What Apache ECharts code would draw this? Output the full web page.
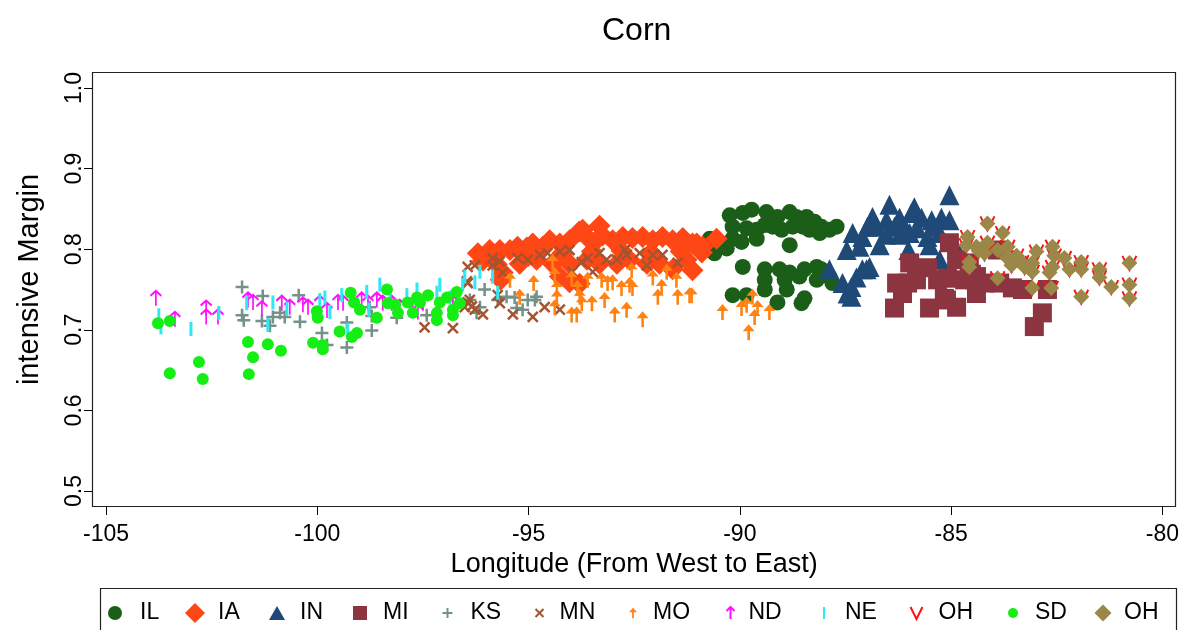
<!DOCTYPE html>
<html>
<head>
<meta charset="utf-8">
<script src="https://cdn.jsdelivr.net/npm/echarts@6/dist/echarts.min.js"></script>
<style>
html,body{margin:0;padding:0;background:#fff;}
#chart{width:1182px;height:630px;}
</style>
</head>
<body>
<div id="chart"></div>
<script>
// ---------- data (longitude, intensive margin) ----------
const chartTitle = 'Corn';
const xTicks = [-105, -100, -95, -90, -85, -80];
const yTicks = [0.5, 0.6, 0.7, 0.8, 0.9, 1.0];
const legendNames = ['IL', 'IA', 'IN', 'MI', 'KS', 'MN', 'MO', 'ND', 'NE', 'OH', 'SD', 'OH '];

const IL = [[-90.24,0.842],[-89.93,0.845],[-89.72,0.849],[-89.37,0.846],[-89.11,0.840],[-88.82,0.846],[-88.66,0.840],[-88.42,0.840],[-88.23,0.834],[-88.07,0.828],[-87.88,0.824],[-87.71,0.828],[-90.17,0.828],[-89.84,0.826],[-89.60,0.824],[-89.41,0.830],[-89.22,0.828],[-89.01,0.824],[-88.75,0.828],[-88.51,0.828],[-88.35,0.824],[-88.11,0.820],[-89.96,0.809],[-89.60,0.813],[-88.82,0.805],[-90.71,0.813],[-90.60,0.795],[-90.31,0.801],[-90.17,0.813],[-89.93,0.778],[-89.41,0.775],[-89.41,0.762],[-89.41,0.750],[-89.06,0.775],[-88.94,0.762],[-88.89,0.750],[-88.82,0.771],[-88.59,0.766],[-88.47,0.775],[-88.18,0.778],[-88.18,0.762],[-88.07,0.775],[-87.88,0.766],[-90.17,0.743],[-89.84,0.743],[-89.11,0.734],[-88.47,0.739],[-88.54,0.733],[-87.81,0.758]];
const IA = [[-96.20,0.795],[-96.08,0.786],[-95.92,0.799],[-95.68,0.799],[-95.75,0.781],[-95.61,0.771],[-95.44,0.799],[-95.26,0.803],[-95.04,0.802],[-94.90,0.807],[-94.66,0.803],[-94.50,0.811],[-94.26,0.807],[-94.03,0.811],[-93.72,0.824],[-93.62,0.815],[-93.39,0.811],[-93.25,0.817],[-93.01,0.811],[-92.77,0.815],[-92.54,0.814],[-92.30,0.815],[-92.06,0.811],[-91.83,0.815],[-91.59,0.811],[-91.35,0.814],[-91.12,0.807],[-90.88,0.803],[-95.66,0.762],[-95.21,0.782],[-94.81,0.787],[-94.43,0.782],[-94.03,0.782],[-93.62,0.787],[-93.32,0.782],[-92.91,0.782],[-92.61,0.787],[-92.20,0.782],[-91.90,0.782],[-91.59,0.775],[-91.26,0.787],[-94.26,0.766],[-94.03,0.759],[-93.79,0.757],[-95.00,0.792],[-94.20,0.795],[-93.50,0.797],[-92.80,0.798],[-92.10,0.796],[-91.40,0.797],[-91.02,0.807],[-90.55,0.813],[-90.90,0.796],[-91.12,0.774],[-93.32,0.829],[-93.80,0.822]];
const IN = [[-87.33,0.820],[-87.10,0.815],[-86.98,0.828],[-87.47,0.799],[-87.17,0.803],[-87.88,0.775],[-87.57,0.758],[-87.45,0.745],[-87.24,0.765],[-87.10,0.775],[-86.93,0.778],[-85.04,0.867],[-86.46,0.855],[-85.87,0.852],[-86.86,0.840],[-86.53,0.836],[-86.22,0.839],[-85.94,0.845],[-85.70,0.839],[-85.46,0.836],[-85.23,0.839],[-85.04,0.836],[-86.76,0.828],[-86.34,0.828],[-86.10,0.828],[-85.80,0.826],[-85.44,0.828],[-86.53,0.818],[-86.22,0.818],[-85.98,0.820],[-85.56,0.815],[-85.27,0.820],[-86.01,0.799],[-85.51,0.805],[-85.27,0.787],[-87.00,0.775],[-87.36,0.753],[-87.36,0.741],[-86.69,0.805],[-84.87,0.801]];
const MI = [[-85.04,0.808],[-85.98,0.783],[-85.56,0.777],[-86.29,0.758],[-86.03,0.758],[-85.82,0.762],[-85.32,0.762],[-85.09,0.764],[-86.15,0.745],[-86.34,0.727],[-85.51,0.727],[-85.16,0.739],[-84.87,0.728],[-84.40,0.745],[-84.45,0.762],[-84.87,0.787],[-84.57,0.783],[-84.40,0.766],[-84.21,0.758],[-85.11,0.737],[-83.85,0.758],[-83.55,0.752],[-83.31,0.750],[-82.72,0.750],[-82.84,0.721],[-83.03,0.704],[-84.52,0.769],[-83.90,0.799],[-84.68,0.762]];
const KS = [[-101.78,0.753],[-101.29,0.742],[-101.78,0.718],[-101.74,0.712],[-101.31,0.711],[-101.12,0.705],[-101.05,0.716],[-100.88,0.721],[-100.77,0.716],[-100.44,0.743],[-100.41,0.710],[-99.89,0.696],[-99.77,0.681],[-99.30,0.678],[-99.30,0.709],[-98.71,0.699],[-98.76,0.728],[-98.71,0.717],[-98.12,0.715],[-97.41,0.718],[-96.23,0.721],[-96.04,0.750],[-95.73,0.737],[-95.52,0.741],[-95.33,0.740],[-95.28,0.727],[-95.14,0.725],[-95.02,0.737],[-94.85,0.737],[-94.81,0.741],[-96.15,0.728],[-96.39,0.737]];
const MN = [[-96.44,0.778],[-96.44,0.758],[-96.44,0.734],[-96.34,0.729],[-96.79,0.702],[-96.27,0.780],[-95.85,0.789],[-95.85,0.780],[-95.68,0.785],[-95.61,0.771],[-95.26,0.789],[-95.02,0.787],[-94.73,0.793],[-94.55,0.795],[-94.26,0.797],[-94.03,0.799],[-93.96,0.772],[-93.74,0.784],[-93.60,0.789],[-93.48,0.772],[-93.32,0.795],[-93.15,0.787],[-92.91,0.787],[-92.72,0.799],[-92.68,0.793],[-92.37,0.795],[-92.06,0.793],[-91.83,0.793],[-91.47,0.783],[-92.20,0.780],[-96.46,0.760],[-96.39,0.737],[-96.51,0.728],[-96.27,0.725],[-96.08,0.719],[-95.68,0.733],[-95.37,0.719],[-94.90,0.716],[-94.62,0.728],[-94.26,0.725],[-95.73,0.743],[-97.46,0.703]];
const MO = [[-95.44,0.762],[-95.21,0.741],[-94.88,0.758],[-94.43,0.784],[-94.38,0.768],[-94.33,0.752],[-94.33,0.740],[-94.38,0.728],[-93.98,0.764],[-93.98,0.719],[-93.86,0.719],[-93.84,0.752],[-93.79,0.741],[-93.74,0.733],[-93.60,0.762],[-93.50,0.733],[-93.27,0.762],[-93.20,0.737],[-93.13,0.758],[-93.01,0.759],[-92.96,0.719],[-92.80,0.752],[-92.68,0.725],[-92.61,0.756],[-92.56,0.774],[-92.54,0.752],[-92.30,0.713],[-92.06,0.765],[-91.94,0.741],[-91.85,0.753],[-91.73,0.772],[-91.50,0.762],[-91.47,0.741],[-91.19,0.743],[-91.14,0.743],[-90.41,0.722],[-89.96,0.727],[-89.84,0.731],[-89.70,0.741],[-89.58,0.727],[-89.65,0.716],[-89.30,0.722],[-89.79,0.697]];
const ND = [[-103.82,0.739],[-103.37,0.713],[-102.63,0.727],[-102.63,0.716],[-102.35,0.716],[-101.64,0.737],[-101.52,0.734],[-101.31,0.726],[-100.84,0.733],[-100.65,0.728],[-100.34,0.731],[-100.22,0.728],[-99.94,0.733],[-99.77,0.724],[-99.51,0.734],[-99.39,0.733],[-98.95,0.737],[-98.80,0.733],[-98.59,0.737],[-98.45,0.733],[-98.24,0.733],[-98.05,0.728],[-97.74,0.728],[-97.62,0.722],[-97.50,0.733],[-96.79,0.733]];
const NE = [[-103.75,0.718],[-103.70,0.703],[-102.99,0.701],[-102.33,0.721],[-101.67,0.733],[-101.05,0.734],[-100.72,0.726],[-99.94,0.737],[-99.82,0.740],[-99.70,0.722],[-99.42,0.743],[-99.04,0.731],[-98.83,0.747],[-98.78,0.725],[-98.52,0.756],[-98.28,0.737],[-97.88,0.743],[-97.64,0.750],[-97.17,0.746],[-97.10,0.756],[-96.86,0.740],[-96.56,0.756],[-96.51,0.766],[-96.27,0.759],[-96.15,0.772],[-95.85,0.766],[-95.73,0.746],[-101.17,0.706],[-99.28,0.700]];
const OH = [[-84.14,0.832],[-84.61,0.815],[-83.78,0.820],[-84.64,0.805],[-84.40,0.803],[-84.14,0.808],[-84.21,0.795],[-83.90,0.799],[-83.66,0.803],[-83.69,0.790],[-83.45,0.792],[-83.57,0.780],[-83.33,0.784],[-83.26,0.778],[-83.08,0.783],[-82.98,0.797],[-83.08,0.772],[-82.60,0.803],[-82.56,0.792],[-82.32,0.789],[-82.60,0.778],[-82.67,0.771],[-82.20,0.775],[-81.92,0.784],[-81.92,0.775],[-81.49,0.775],[-81.49,0.765],[-81.21,0.753],[-80.78,0.783],[-80.78,0.756],[-80.78,0.739],[-81.92,0.741],[-82.63,0.752],[-83.08,0.752],[-83.90,0.764],[-84.57,0.778],[-84.57,0.784],[-84.35,0.798]];
const SD = [[-103.77,0.708],[-103.49,0.711],[-103.49,0.646],[-102.80,0.660],[-102.71,0.639],[-101.64,0.685],[-101.52,0.666],[-101.62,0.645],[-101.17,0.682],[-100.86,0.674],[-100.01,0.723],[-99.99,0.715],[-100.10,0.684],[-99.87,0.681],[-99.87,0.676],[-99.47,0.698],[-99.18,0.691],[-99.06,0.696],[-99.21,0.746],[-99.13,0.734],[-98.99,0.725],[-98.59,0.715],[-98.35,0.750],[-98.33,0.733],[-98.16,0.731],[-98.09,0.721],[-97.86,0.734],[-97.74,0.721],[-97.64,0.740],[-97.57,0.734],[-97.38,0.743],[-97.17,0.721],[-97.17,0.712],[-97.10,0.734],[-96.93,0.740],[-96.79,0.725],[-96.70,0.747],[-96.63,0.733],[-96.79,0.718]];

// ---------- styling ----------
const FONT = "'Liberation Sans', Helvetica, Arial, sans-serif";
const seriesStyles = [
  {data: IL, symbol: 'circle', size: 16, color: '#1b5e18'},
  {data: IA, symbol: 'diamond', size: 22, color: '#ff4716'},
  {data: IN, symbol: 'triangle', size: 20, color: '#1f4a78'},
  {data: MI, symbol: 'rect', size: 19, color: '#8c3540'},
  {data: KS, symbol: 'path://M6,0 L6,12 M0,6 L12,6', size: 13, stroke: '#74918a', lw: 2.5},
  {data: MN, symbol: 'path://M0,0 L10,10 M10,0 L0,10', size: 10, stroke: '#a5542f', lw: 2.5},
  {data: MO, symbol: 'path://M6,0 L12,7 L7.3,7 L7.3,16 L4.7,16 L4.7,7 L0,7 Z', size: [12, 16], color: '#ff8212'},
  {data: ND, symbol: 'path://M5,15 L5,0 M0,5 L5,0 L10,5', size: [11, 15], stroke: '#ff12ff', lw: 2},
  {data: NE, symbol: 'rect', size: [3, 14], color: '#2ee9f2'},
  {data: OH, symbol: 'path://M0,0 L7,14 L14,0', size: 14, stroke: '#ff1010', lw: 2},
  {data: SD, symbol: 'circle', size: 12, color: '#14ee14'},
  {data: OH, symbol: 'diamond', size: 16, color: '#9b8748'}
];
// legend layout: marker centre x, text start x, icon width, icon height
const legendLayout = [
  [115, 140, 14, 14], [195, 218, 20, 20], [277, 300, 16, 14], [360, 383, 14, 14],
  [445, 468, 10, 10], [537, 557, 8, 8], [633, 653, 8, 12], [728, 746, 8, 12],
  [824, 845, 2, 12], [915, 937, 14, 12], [1013, 1035, 10, 10], [1103, 1124, 17, 17]
];
const LEGEND_Y = 615;

const series = seriesStyles.map((s, i) => ({
  type: 'scatter',
  name: legendNames[i],
  data: s.data,
  symbol: s.symbol,
  symbolSize: s.size,
  itemStyle: s.stroke
    ? {color: 'none', borderColor: s.stroke, borderWidth: s.lw, opacity: 1}
    : {color: s.color, opacity: 1},
  emphasis: {disabled: true},
  animation: false
}));

const legends = legendLayout.map((L, i) => {
  const [c, t, w, h] = L;
  const pad = t - c - w / 2 - 5;
  const boxH = Math.max(h, 27);
  return {
    data: [legendNames[i]],
    left: c - w / 2,
    top: LEGEND_Y - boxH / 2,
    padding: 0,
    itemWidth: w,
    itemHeight: h,
    selectedMode: false,
    formatter: n => n.trim(),
    textStyle: {fontSize: 23, color: '#000', fontFamily: FONT, padding: [0, 0, 0, pad]}
  };
});

const chart = echarts.init(document.getElementById('chart'), null, {renderer: 'canvas'});
chart.setOption({
  animation: false,
  backgroundColor: '#fff',
  title: {
    text: chartTitle, left: 597, top: 10,
    textStyle: {fontSize: 32, fontWeight: 'normal', color: '#000', fontFamily: FONT}
  },
  grid: {left: 106, right: 19, top: 88, bottom: 139},
  xAxis: {
    type: 'value', min: xTicks[0], max: xTicks[xTicks.length - 1], interval: 5,
    offset: 15,
    axisLine: {show: false},
    axisTick: {show: true, length: 9, lineStyle: {color: '#000', width: 1}},
    splitLine: {show: false},
    axisLabel: {fontSize: 23, color: '#000', fontFamily: FONT, margin: 17},
    name: 'Longitude (From West to East)', nameLocation: 'middle', nameGap: 32,
    nameTextStyle: {fontSize: 27, color: '#000', fontFamily: FONT}
  },
  yAxis: {
    type: 'value', min: yTicks[0], max: yTicks[yTicks.length - 1], interval: 0.1,
    offset: 14,
    axisLine: {show: false},
    axisTick: {show: true, length: 8, lineStyle: {color: '#000', width: 1}},
    splitLine: {show: false},
    axisLabel: {fontSize: 23, color: '#000', fontFamily: FONT, rotate: 90, margin: 6,
      formatter: v => v.toFixed(1)},
    name: 'intensive Margin', nameLocation: 'middle', nameGap: 48, nameRotate: 90,
    nameTextStyle: {fontSize: 29, color: '#000', fontFamily: FONT, padding: [0, 0, 0, 20]}
  },
  legend: legends,
  graphic: [
    {type: 'rect', shape: {x: 92.5, y: 72.5, width: 1083, height: 434}, silent: true, z: -1,
      style: {fill: 'none', stroke: '#222', lineWidth: 1.2}},
    {type: 'rect', shape: {x: 100.5, y: 588.5, width: 1076, height: 60}, silent: true,
      style: {fill: 'none', stroke: '#222', lineWidth: 1.2}}
  ],
  series: series
});
</script>
</body>
</html>
